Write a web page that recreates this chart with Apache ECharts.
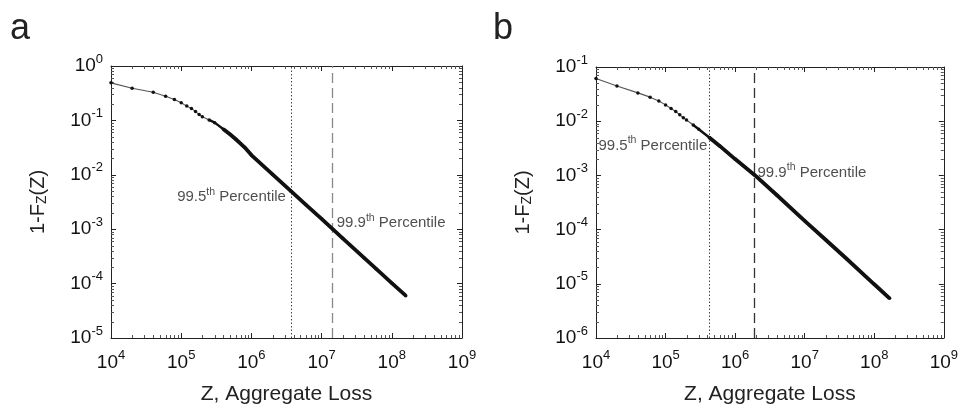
<!DOCTYPE html>
<html>
<head>
<meta charset="utf-8">
<script src="https://cdn.jsdelivr.net/npm/echarts@6/dist/echarts.min.js"></script>
<style>
  html, body { margin: 0; padding: 0; background: #fff; }
  #main { width: 961px; height: 410px; }
</style>
</head>
<body>
<div id="main"></div>
<script>
// panel a: aggregate loss and tail probability 1-F(Z)
var lossA = [1e4, 2e4, 4e4, 6e4, 8e4, 1e5, 1.2e5, 1.4e5, 1.6e5, 1.8e5, 2e5, 2.5e5, 3e5, 4e5, 5e5, 6e5, 8e5,
             1e6, 2e6, 3.66e6, 6e6, 1e7, 1.44e7, 2e7, 4e7, 6e7, 1e8, 1.58e8];
var tailA = [0.49, 0.39, 0.33, 0.278, 0.242, 0.211, 0.183, 0.166, 0.145, 0.129, 0.117, 0.102, 0.091, 0.069, 0.055, 0.045, 0.032,
             0.023, 0.0102, 0.005, 0.0028, 0.00155, 0.001, 6.8e-4, 3.0e-4, 1.86e-4, 1.02e-4, 6.0e-5];

// panel b
var lossB = [1e4, 2e4, 4e4, 6e4, 8e4, 1e5, 1.2e5, 1.4e5, 1.6e5, 1.8e5, 2e5, 2.5e5, 3e5, 4.25e5, 6e5,
             1e6, 1.9e6, 4e6, 1e7, 2e7, 4e7, 1e8, 1.66e8];
var tailB = [0.0614, 0.0447, 0.0333, 0.0278, 0.0235, 0.020, 0.0171, 0.0151, 0.0131, 0.0116, 0.0105, 0.0085, 0.0071, 0.005, 0.0035,
             0.002, 0.00102, 4.3e-4, 1.45e-4, 6.5e-5, 2.9e-5, 9.8e-6, 5.4e-6];

// percentile lines
var pctNames = ['99.5', '99.9'];
var pctLevels = [0.005, 0.001];
var pctA = [3.66e6, 1.44e7];
var pctB = [4.25e5, 1.9e6];

var xRange = [1e4, 1e9];
var yRangeA = [1e-5, 1];
var yRangeB = [1e-6, 1e-1];

var FONT = '"Liberation Sans", Arial, Helvetica, sans-serif';

function pairs(xs, ys, from) {
    var out = [];
    for (var i = 0; i < xs.length; i++) {
        if (xs[i] >= (from || 0)) out.push([xs[i], ys[i]]);
    }
    return out;
}

function powLabel(v) {
    var e = Math.round(Math.log10(v));
    return '{b|10}{s|' + e + '}';
}
var powRich = {
    b: { fontSize: 19, color: '#111', fontFamily: FONT },
    s: { fontSize: 13, color: '#111', fontFamily: FONT, padding: [0, 0, 14, 0] }
};

// minor ticks (2..9 x 10^k) on all four sides
function minorData(xr, yr) {
    var d = [], k, m;
    for (k = Math.round(Math.log10(xr[0])); k < Math.round(Math.log10(xr[1])); k++)
        for (m = 2; m <= 9; m++) d.push([m * Math.pow(10, k), yr[0], 0]);
    for (k = Math.round(Math.log10(yr[0])); k < Math.round(Math.log10(yr[1])); k++)
        for (m = 2; m <= 9; m++) d.push([xr[0], m * Math.pow(10, k), 1]);
    return d;
}
function minorTick(params, api) {
    var cs = params.coordSys;
    var p = api.coord([api.value(0), api.value(1)]);
    var L = 3, segs;
    if (api.value(2) === 0) {
        var x = Math.round(p[0]) + 0.5;
        segs = [[x, cs.y + cs.height, x, cs.y + cs.height - L], [x, cs.y, x, cs.y + L]];
    } else {
        var y = Math.round(p[1]) + 0.5;
        segs = [[cs.x, y, cs.x + L, y], [cs.x + cs.width, y, cs.x + cs.width - L, y]];
    }
    return {
        type: 'group',
        children: segs.map(function (s) {
            return { type: 'line', shape: { x1: s[0], y1: s[1], x2: s[2], y2: s[3] },
                     style: { stroke: '#555', lineWidth: 1 } };
        })
    };
}

function xAxes(gi) {
    var common = {
        type: 'log', logBase: 10, min: xRange[0], max: xRange[1], gridIndex: gi, splitNumber: 5,
        splitLine: { show: false },
        axisLine: { show: true, onZero: false, lineStyle: { color: '#222', width: 1 } },
        axisTick: { inside: true, length: 5, lineStyle: { color: '#222' } }
    };
    return [
        Object.assign({}, common, {
            position: 'bottom',
            axisLabel: { formatter: powLabel, rich: powRich, margin: 11, showMinLabel: true, showMaxLabel: true },
            name: 'Z, Aggregate Loss', nameLocation: 'middle', nameGap: 46,
            nameTextStyle: { fontSize: 21, color: '#222', fontFamily: FONT }
        }),
        Object.assign({}, common, { position: 'top', axisLabel: { show: false } })
    ];
}
function yAxes(gi, yr) {
    var common = {
        type: 'log', logBase: 10, min: yr[0], max: yr[1], gridIndex: gi, splitNumber: 5,
        splitLine: { show: false },
        axisLine: { show: true, onZero: false, lineStyle: { color: '#222', width: 1 } },
        axisTick: { inside: true, length: 5, lineStyle: { color: '#222' } }
    };
    return [
        Object.assign({}, common, {
            position: 'left',
            axisLabel: { formatter: powLabel, rich: powRich, margin: 8, showMinLabel: true, showMaxLabel: true },
            name: '{n|1-F}{u|Z}{n|(Z)}', nameLocation: 'middle', nameGap: 62, nameRotate: 90,
            nameTextStyle: {
                rich: {
                    n: { fontSize: 20, color: '#222', fontFamily: FONT },
                    u: { fontSize: 14, color: '#222', fontFamily: FONT, padding: [8, 0, 0, 0] }
                }
            }
        }),
        Object.assign({}, common, { position: 'right', axisLabel: { show: false } })
    ];
}

var labelRich = {
    m: { fontSize: 15, color: '#222', fontFamily: FONT },
    s: { fontSize: 10.5, color: '#222', fontFamily: FONT, padding: [0, 0, 11, 0] }
};
function pctLabel(i, side, dist, dy) {
    return {
        show: true, position: side, distance: dist, offset: [0, dy],
        formatter: '{m|' + pctNames[i] + '}{s|th}{m| Percentile}', rich: labelRich
    };
}

function panelSeries(k, xs, ys, pct, labelCfg) {
    var dashColor = k === 0 ? '#888' : '#333';
    return [
        {
            type: 'line', xAxisIndex: 2 * k, yAxisIndex: 2 * k, data: pairs(xs, ys),
            showSymbol: true, symbol: 'circle', symbolSize: 3.5,
            itemStyle: { color: '#111' }, lineStyle: { color: '#555', width: 1.1 },
            animation: false, silent: true, z: 3
        },
        {
            type: 'line', xAxisIndex: 2 * k, yAxisIndex: 2 * k, data: pairs(xs, ys, 2.5e5),
            showSymbol: false, lineStyle: { color: '#111', width: 2.4 }, animation: false, silent: true, z: 4
        },
        {
            type: 'line', xAxisIndex: 2 * k, yAxisIndex: 2 * k, data: pairs(xs, ys, 4e5),
            showSymbol: false, lineStyle: { color: '#111', width: 3.8 }, animation: false, silent: true, z: 5,
            markLine: {
                silent: true, symbol: 'none', animation: false, label: { show: false },
                data: [
                    { xAxis: pct[0], lineStyle: { type: [1.5, 2], color: '#444', width: 1 } },
                    { xAxis: pct[1], lineStyle: { type: [10, 5], color: dashColor, width: 1.3 } }
                ]
            }
        },
        {
            type: 'scatter', xAxisIndex: 2 * k, yAxisIndex: 2 * k, symbolSize: 0, animation: false, silent: true, z: 6,
            data: [
                { value: [pct[0], pctLevels[0]], label: labelCfg[0] },
                { value: [pct[1], pctLevels[1]], label: labelCfg[1] }
            ]
        },
        {
            type: 'custom', xAxisIndex: 2 * k, yAxisIndex: 2 * k, renderItem: minorTick, silent: true, animation: false,
            data: minorData(xRange, k === 0 ? yRangeA : yRangeB), z: 2
        }
    ];
}

var myChart = echarts.init(document.getElementById('main'));

var option = {
    backgroundColor: '#fff',
    animation: false,
    textStyle: { fontFamily: FONT },
    title: [
        { text: 'a', left: 5, top: 6, textStyle: { fontSize: 36, fontWeight: 'normal', color: '#222', fontFamily: FONT } },
        { text: 'b', left: 488, top: 6, textStyle: { fontSize: 36, fontWeight: 'normal', color: '#222', fontFamily: FONT } }
    ],
    grid: [
        { left: 111, top: 66, width: 351, height: 276 },
        { left: 596, top: 67, width: 351, height: 276 }
    ],
    xAxis: xAxes(0).concat(xAxes(1)),
    yAxis: yAxes(0, yRangeA).concat(yAxes(1, yRangeB)),
    series: panelSeries(0, lossA, tailA, pctA, [pctLabel(0, 'left', 5, 6), pctLabel(1, 'right', 4, -6)])
        .concat(panelSeries(1, lossB, tailB, pctB, [pctLabel(0, 'left', 2, 8), pctLabel(1, 'right', 3, -3)]))
};

myChart.setOption(option);
</script>
</body>
</html>
